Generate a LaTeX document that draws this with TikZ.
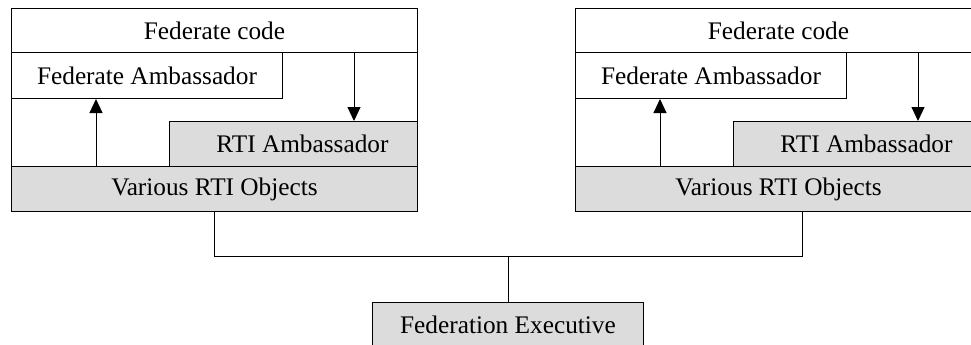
\documentclass[tikz,border=0pt]{standalone}
\usepackage{fontspec}
\setmainfont{Liberation Serif}
\usetikzlibrary{arrows.meta}
\definecolor{panelgrey}{HTML}{DCDCDC}
\tikzset{
  x=1pt, y=-1pt,
  boxline/.style={draw=black, line width=1pt},
  plainbox/.style={boxline, fill=white, anchor=north west, inner sep=0pt, font=\fontsize{25.3}{28}\selectfont},
  greybox/.style={plainbox, fill=panelgrey},
  frame/.style={boxline, anchor=north west, inner sep=0pt},
  arr/.style={line width=1pt, -{Triangle[length=14pt, width=13pt]}},
  wire/.style={line width=1pt}
}
\begin{document}
\begin{tikzpicture}
\useasboundingbox (0,0) rectangle (971,345);
% one federate: code, ambassadors and RTI objects
\foreach \p/\dx in {L/0, R/564} {
  \begin{scope}[xshift=\dx pt]
    \node[frame, minimum width=406pt, minimum height=203pt] (\p-frame) at (11,8) {};
    \node[plainbox, minimum width=406pt, minimum height=44pt] (\p-code) at (11,8) {Federate code};
    \node[plainbox, minimum width=271pt, minimum height=46pt] (\p-fa) at (11,52) {Federate Ambassador};
    \node[greybox, minimum width=248pt, minimum height=45pt] (\p-rti) at (169,121) {\hspace*{18pt}RTI Ambassador};
    \node[greybox, minimum width=406pt, minimum height=45pt] (\p-obj) at (11,166) {Various RTI Objects};
    \draw[arr] ([xshift=85pt]\p-obj.north west) -- ([xshift=85pt]\p-fa.south west);
    \draw[arr] ([xshift=343pt]\p-code.south west) -- ([xshift=185pt]\p-rti.north west);
  \end{scope}
}
% federation executive and its links
\node[greybox, minimum width=271pt, minimum height=45pt] (fedex) at (372,302) {Federation Executive};
\coordinate (bus) at (508,256);
\draw[wire] (L-obj.south) |- ([xshift=24pt]R-obj.south |- bus) -- ([xshift=24pt]R-obj.south);
\draw[wire] (fedex.north) -- (fedex.north |- bus);
\end{tikzpicture}
\end{document}
